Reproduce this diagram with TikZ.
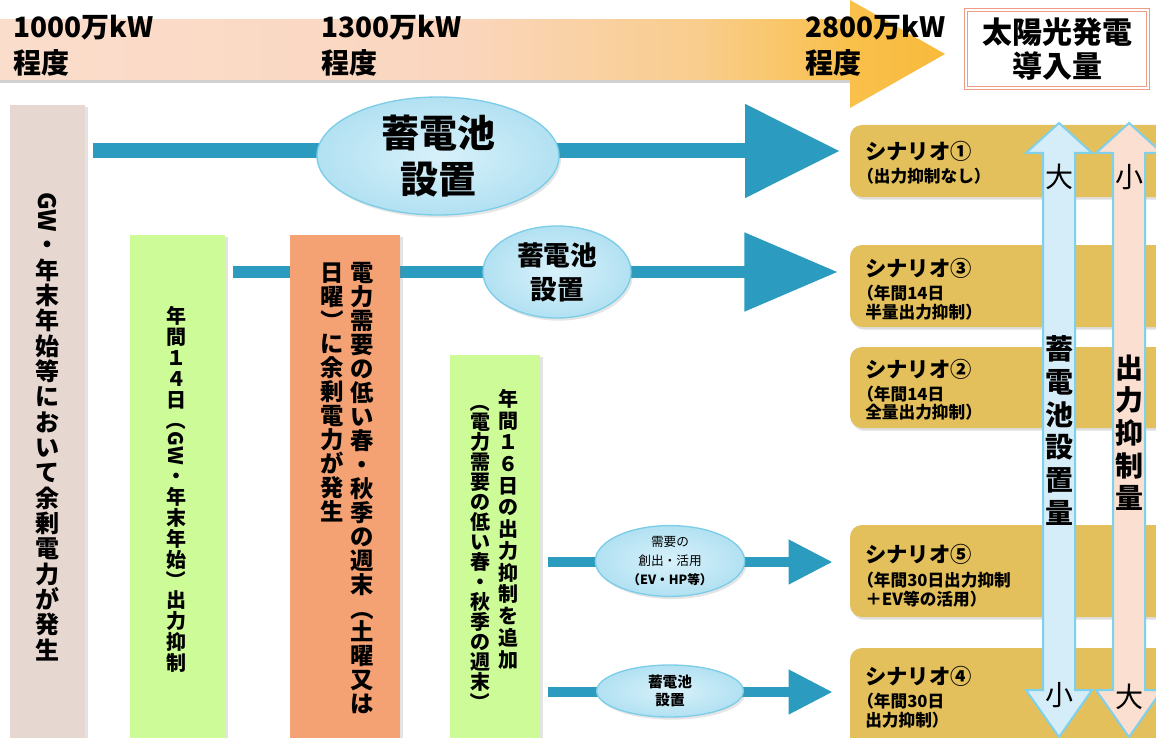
\documentclass[tikz,border=0pt]{standalone}
\usepackage{fontspec}
\setmainfont{Noto Sans CJK JP}
\usepackage{graphicx}
\usetikzlibrary{arrows.meta,shapes.geometric,fit,shadows,calc}
\pgfdeclarelayer{bg}
\pgfsetlayers{bg,main}
\definecolor{bandA}{HTML}{FBDDCC}
\definecolor{bandA2}{HTML}{FAD6BF}
\definecolor{bandB}{HTML}{F9CD8C}
\definecolor{bandC}{HTML}{F9C04B}
\definecolor{headC}{HTML}{F8BA3C}
\definecolor{colgray}{HTML}{E6D7D1}
\definecolor{colgreen}{HTML}{CCFB98}
\definecolor{colorange}{HTML}{F4A173}
\definecolor{teal1}{HTML}{2B9CBF}
\definecolor{ellIn}{HTML}{D8F1FA}
\definecolor{ellOut}{HTML}{B2E1F2}
\definecolor{elldraw}{HTML}{7CCDE8}
\definecolor{gold}{HTML}{E3C05C}
\definecolor{vblue}{HTML}{D5EDF8}
\definecolor{vpink}{HTML}{FBDFD1}
\definecolor{vedge}{HTML}{7FD0EB}
\definecolor{salmon}{HTML}{EE9C86}
\makeatletter
\def\vst#1{\vst@a#1\vst@stop}
\def\vst@a#1{\vst@item{#1}\vst@b}
\def\vst@b#1{\ifx\vst@stop#1\else\\\vst@item{#1}\expandafter\vst@b\fi}
\def\vst@stop{\relax}
\def\vst@item#1{\raisebox{0pt}[.8em][.12em]{#1}}
\makeatother
\begin{document}
\begin{tikzpicture}[x=0.75pt,y=-0.75pt,
  col/.style={inner sep=0pt, outer sep=0pt, drop shadow={shadow xshift=2pt,shadow yshift=-1.5pt,opacity=0.22}},
  scen/.style={fill=gold, rounded corners=9pt, inner sep=0pt, drop shadow={shadow xshift=1.5pt,shadow yshift=-2pt,opacity=0.25}},
  ell/.style={ellipse, inner color=ellIn, outer color=ellOut, draw=elldraw, line width=1pt, inner sep=0pt, align=center, drop shadow={shadow xshift=1.5pt,shadow yshift=-2pt,opacity=0.2}},
  arrA/.style={draw=teal1, line width=11.25pt, -{Triangle[length=71pt,width=67.5pt]}},
  arrB/.style={draw=teal1, line width=9pt, -{Triangle[length=70pt,width=57pt]}},
  arrC/.style={draw=teal1, line width=7.5pt, -{Triangle[length=33pt,width=31.5pt]}},
  lbl/.style={anchor=west, inner sep=0pt, font=\bfseries\fontsize{21}{24}\selectfont},
  vt/.style={text width=36pt, align=center, inner sep=0pt, anchor=north},
  rt/.style={rotate=-90, anchor=west, inner sep=0pt},
  fG/.style={font=\bfseries\fontsize{18}{19}\selectfont},
  fA/.style={font=\bfseries\fontsize{15}{15.75}\selectfont},
  fO/.style={font=\bfseries\fontsize{17.5}{18}\selectfont},
  fB/.style={font=\bfseries\fontsize{15}{16.3}\selectfont},
  fC/.style={font=\bfseries\fontsize{15}{15}\selectfont},
  st/.style={anchor=west, inner sep=0pt, font=\bfseries\fontsize{16}{18}\selectfont},
  ss/.style={anchor=west, inner sep=0pt, font=\bfseries\fontsize{12.5}{15}\selectfont},
  vbig/.style={inner sep=0pt, font=\fontsize{21}{24}\selectfont}
]
\useasboundingbox (0,0) rectangle (1156,738);
\clip (0,0) rectangle (1156,738);
\begin{pgfonlayer}{bg}
\fill[white] (0,0) rectangle (1156,738);
\end{pgfonlayer}

% top band
\shade[left color=bandA, right color=bandA2] (0,20) rectangle (451,80);
\shade[left color=bandA2, right color=bandB] (450,20) rectangle (701,80);
\shade[left color=bandB, right color=bandC] (700,20) rectangle (851,80);
\fill[black,opacity=0.18] (0,80) rectangle (850,83);
\shade[left color=bandC, right color=headC] (850,0) -- (945,54) -- (850,108) -- cycle;
\node[lbl] (b1a) at (13,28) {1000万kW};
\node[lbl] (b1b) at (13,63) {程度};
\node[lbl] (b2a) at (321,28) {1300万kW};
\node[lbl] (b2b) at (321,63) {程度};
\node[lbl] (b3a) at (805,28) {2800万kW};
\node[lbl] (b3b) at (805,63) {程度};

% title box
\node[fit={(966,10) (1148,88)}, inner sep=0pt, fill=white, draw=salmon, double=white, double distance=1.5pt, line width=1.1pt] (ttl) {};
\node[font=\bfseries\fontsize{22.5}{25}\selectfont, align=center, inner sep=0pt] (ttltxt) at (ttl.center) {太陽光発電\\導入量};

% columns
\node[col, fill=colgray, fit={(10,105) (85,760)}] (gray) {};
\node[col, fill=colgreen, fit={(130,235) (225,760)}] (g1) {};
\node[col, fill=colorange, fit={(290,235) (400,760)}] (og) {};
\node[col, fill=colgreen, fit={(450,355) (540,760)}] (g2) {};

% gray column text
\node[rt, fG] (tgA) at (47,192) {GW};
\node[vt, fG] (tgB) at ($(tgA.east)+(0,2)$) {\vst{・年末年始等において余剰電力が発生}};
% green 1 text
\node[vt, fA] (t1A) at (176,307) {\vst{年間１４日}};
\node[rt, fA] (t1B) at (t1A.south) {（};
\node[rt, fA] (t1C) at ($(t1B.east)+(0,1)$) {GW};
\node[vt, fA] (t1D) at ($(t1C.east)+(0,2)$) {\vst{・年末年始}};
\node[rt, fA] (t1E) at (t1D.south) {）};
\node[vt, fA] (t1F) at ($(t1E.east)+(0,1)$) {\vst{出力抑制}};
% orange text
\node[vt, fO] (toA) at (362,263) {\vst{電力需要の低い春・秋季の週末}};
\node[rt, fO] (toB) at (toA.south) {（};
\node[vt, fO] (toC) at ($(toB.east)+(0,1)$) {\vst{土曜又は}};
\node[vt, fO] (toD) at (332,263) {\vst{日曜}};
\node[rt, fO] (toE) at (toD.south) {）};
\node[vt, fO] (toF) at ($(toE.east)+(0,1)$) {\vst{に余剰電力が発生}};
% green 2 text
\node[vt, fB] (t2A) at (508,390) {\vst{年間１６日の出力抑制を追加}};
\node[rt, fC] (t2B) at (480,392) {（};
\node[vt, fC] (t2C) at ($(t2B.east)+(0,1)$) {\vst{電力需要の低い春・秋季の週末}};
\node[rt, fC] (t2D) at (t2C.south) {）};

% scenario boxes
\node[scen, fit={(850,125) (1180,197)}] (S1) {};
\node[scen, fit={(850,245) (1180,327)}] (S3) {};
\node[scen, fit={(850,347) (1180,428)}] (S2) {};
\node[scen, fit={(850,525) (1180,617)}] (S5) {};
\node[scen, fit={(850,648) (1180,760)}] (S4) {};

\node[st] (s1t) at (865,151) {シナリオ①};
\node[ss] (s1a) at (857,176) {（出力抑制なし）};
\node[st] (s3t) at (865,268) {シナリオ③};
\node[ss] (s3a) at (857,293) {（年間14日};
\node[ss] (s3b) at (865,312) {半量出力抑制）};
\node[st] (s2t) at (865,369) {シナリオ②};
\node[ss] (s2a) at (857,394) {（年間14日};
\node[ss] (s2b) at (865,412) {全量出力抑制）};
\node[st] (s5t) at (865,554) {シナリオ⑤};
\node[ss] (s5a) at (857,580) {（年間30日出力抑制};
\node[ss] (s5b) at (865,599) {＋EV等の活用）};
\node[st] (s4t) at (865,676) {シナリオ④};
\node[ss] (s4a) at (857,701) {（年間30日};
\node[ss] (s4b) at (865,720) {出力抑制）};

% ellipses
\node[ell, minimum width=181.5pt, minimum height=88.5pt, font=\bfseries\fontsize{28.5}{35}\selectfont] (E1) at (438,156) {蓄電池\\設置};
\node[ell, minimum width=111pt, minimum height=69pt, font=\bfseries\fontsize{20}{25.5}\selectfont] (E2) at (557,272) {蓄電池\\設置};
\node[ell, minimum width=112pt, minimum height=53pt, font=\fontsize{9.5}{14.5}\selectfont] (E3) at (670,561) {需要の\\創出・活用\\{\bfseries（EV・HP等）}};
\node[ell, minimum width=110pt, minimum height=39pt, font=\bfseries\fontsize{11}{13.5}\selectfont] (E4) at (670,691) {蓄電池\\設置};

% connectors
\begin{pgfonlayer}{bg}
\coordinate (a1s) at (93,151);
\coordinate (a2s) at (233,272);
\coordinate (a3s) at (548,562);
\coordinate (a4s) at (548,692);
\draw[arrA] (a1s) -- ($(a1s -| S1.west)+(-10,0)$);
\draw[arrB] (a2s) -- ($(a2s -| S3.west)+(-12,0)$);
\draw[arrC] (a3s) -- ($(a3s -| S5.west)+(-17,0)$);
\draw[arrC] (a4s) -- ($(a4s -| S4.west)+(-17,0)$);
\end{pgfonlayer}

% vertical double arrows
\draw[fill=vblue, draw=vedge, line width=1.5pt] (1059,123) -- (1092,153) -- (1075,153) -- (1075,690) -- (1092,690) -- (1059,737) -- (1026,690) -- (1043,690) -- (1043,153) -- (1026,153) -- cycle;
\draw[fill=vpink, draw=vedge, line width=1.5pt] (1129,123) -- (1162,153) -- (1145,153) -- (1145,690) -- (1162,690) -- (1129,737) -- (1096,690) -- (1113,690) -- (1113,153) -- (1096,153) -- cycle;
\node[vbig] (vb1) at (1059,177) {大};
\node[vbig] (vp1) at (1129,177) {小};
\node[vbig] (vb2) at (1059,695) {小};
\node[vbig] (vp2) at (1129,697) {大};
\node[vt, anchor=center, font=\bfseries\fontsize{21}{24.5}\selectfont] (vbs) at (1059,432) {\vst{蓄電池設置量}};
\node[vt, anchor=center, font=\bfseries\fontsize{21}{24.5}\selectfont] (vps) at (1129,434) {\vst{出力抑制量}};
\end{tikzpicture}
\end{document}
